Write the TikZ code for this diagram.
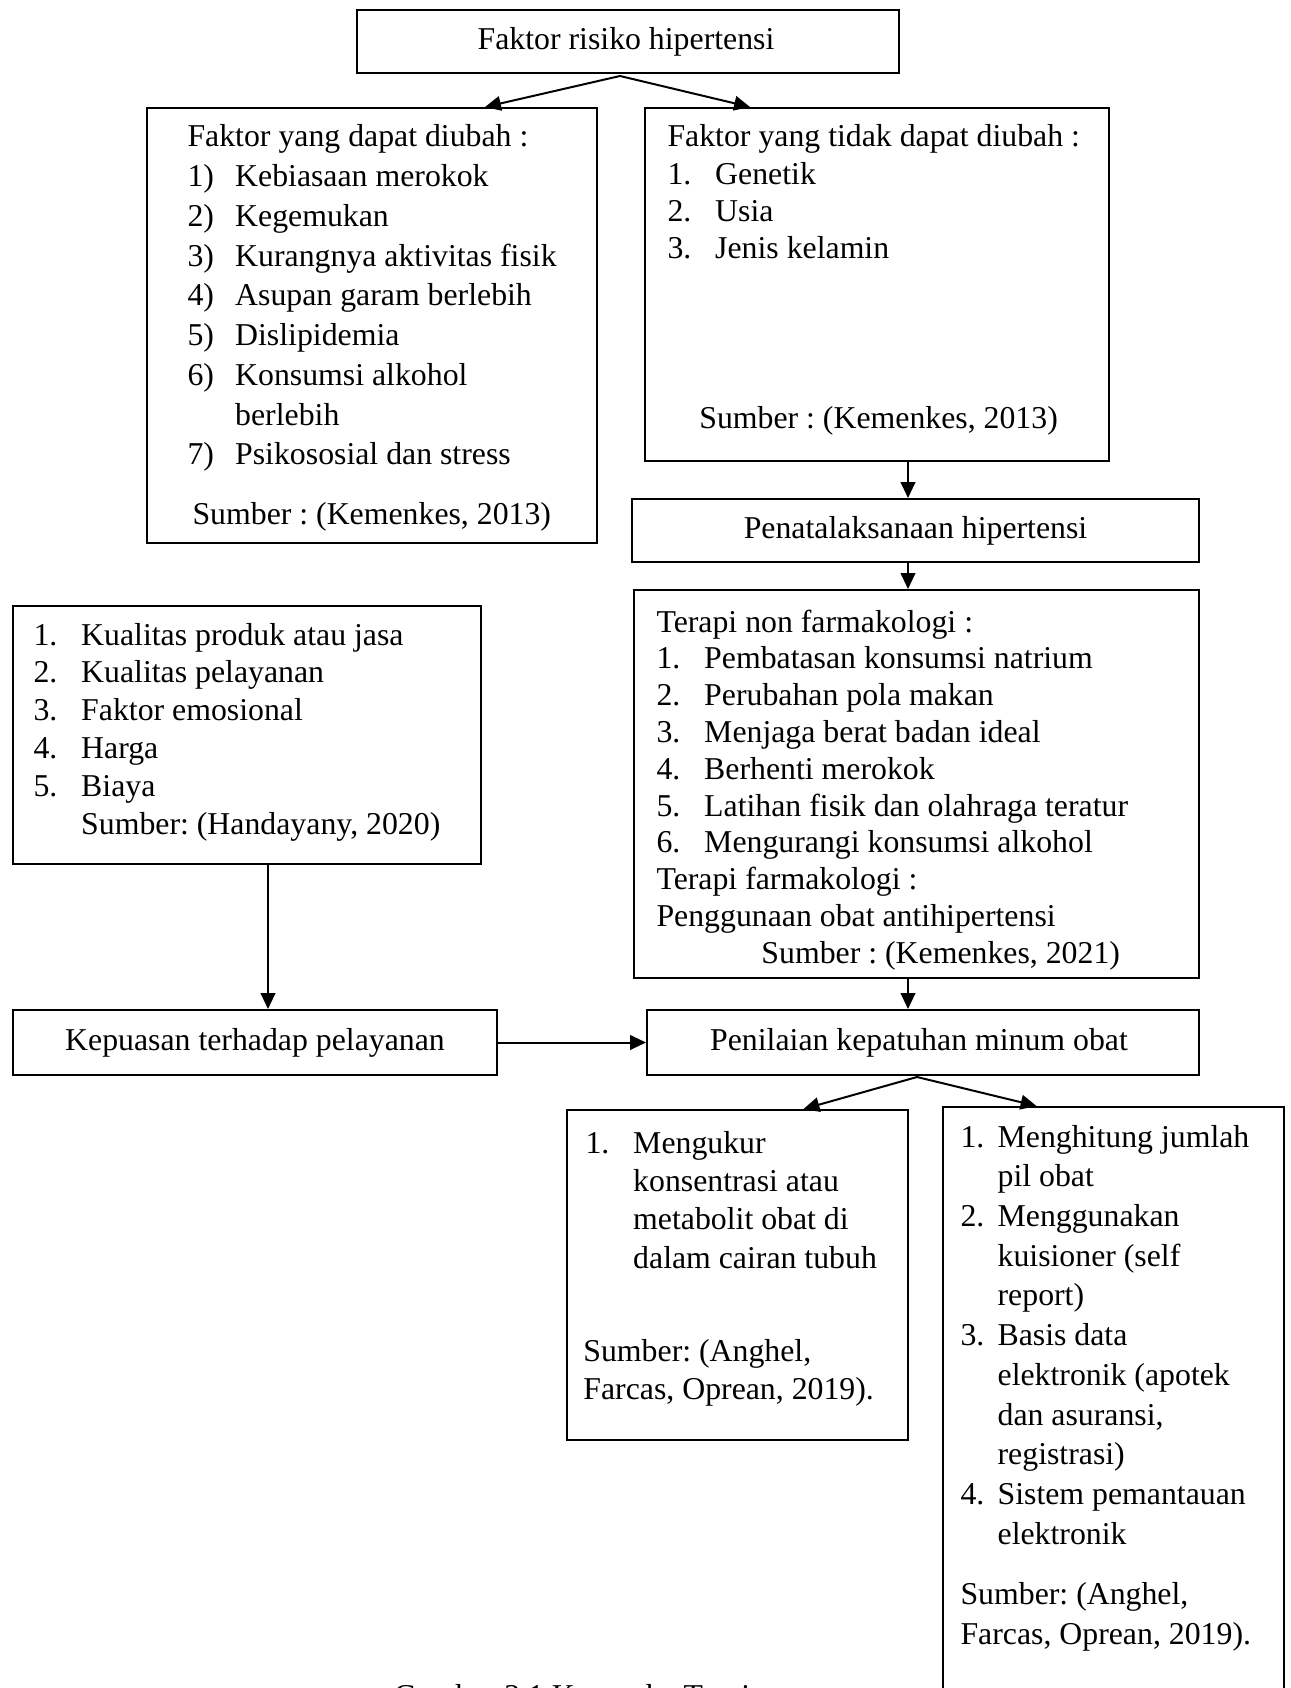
\documentclass[tikz,border=0pt]{standalone}
\usepackage{fontspec}
\setmainfont{Liberation Serif}
\usetikzlibrary{arrows.meta,fit,calc}
\frenchspacing

\tikzset{
  kotak/.style={draw, line width=0.75pt, inner sep=0pt},
  isi/.style={anchor=base west, inner sep=0pt},
  judulkotak/.style={inner sep=0pt},
  panah/.style={-{Triangle[length=6pt,width=5.5pt]}, line width=0.75pt},
}
\newcommand{\butir}[2][18pt]{\makebox[#1][l]{#2}}

\begin{document}
\begin{tikzpicture}[x=0.3774pt, y=-0.3774pt, font=\fontsize{12}{15}\selectfont]
    \useasboundingbox (0,0) rectangle (1290,1688);

    % Kotak
    \node[kotak, fit={(357,10) (899,73)}] (risiko) {};
    \node[kotak, fit={(147,108) (597,543)}] (dapat) {};
    \node[kotak, fit={(645,108) (1109,461)}] (tetap) {};
    \node[kotak, fit={(632,499) (1199,562)}] (tata) {};
    \node[kotak, fit={(634,590) (1199,978)}] (terapi) {};
    \node[kotak, fit={(13,606) (481,864)}] (mutu) {};
    \node[kotak, fit={(13,1010) (497,1075)}] (puas) {};
    \node[kotak, fit={(647,1010) (1199,1075)}] (nilai) {};
    \node[kotak, fit={(567,1110) (908,1440)}] (ukur) {};
    \node[kotak, fit={(943,1107) (1284,1730)}] (hitung) {};

    % Judul kotak satu baris
    \node[judulkotak] (teksrisiko) at ($(risiko.center)+(-2,0)$) {Faktor risiko hipertensi};
    \node[judulkotak] (tekstata) at (tata.center) {Penatalaksanaan hipertensi};
    \node[judulkotak] (tekspuas) at (puas.center) {Kepuasan terhadap pelayanan};
    \node[judulkotak] (teksnilai) at ($(nilai.center)+(-4,0)$) {Penilaian kepatuhan minum obat};

    % Isi kotak
    \node[isi, font=\fontsize{12}{15}\selectfont] (teksdapat) at (187,147) {\begin{tabular}[t]{@{}l@{}}
      Faktor yang dapat diubah :\\
      \butir{1)}Kebiasaan merokok\\
      \butir{2)}Kegemukan\\
      \butir{3)}Kurangnya aktivitas fisik\\
      \butir{4)}Asupan garam berlebih\\
      \butir{5)}Dislipidemia\\
      \butir{6)}Konsumsi alkohol\\
      \butir{}berlebih\\
      \butir{7)}Psikososial dan stress\\[7.5pt]
      \hspace*{1.9pt}Sumber : (Kemenkes, 2013)
    \end{tabular}};

    \node[isi, font=\fontsize{12}{14}\selectfont] (tekstetap) at (667,147) {\begin{tabular}[t]{@{}l@{}}
      Faktor yang tidak dapat diubah :\\
      \butir{1.}Genetik\\
      \butir{2.}Usia\\
      \butir{3.}Jenis kelamin\\[50.2pt]
      \hspace*{12pt}Sumber : (Kemenkes, 2013)
    \end{tabular}};

    \node[isi, font=\fontsize{12}{13.9}\selectfont] (teksterapi) at (656,632) {\begin{tabular}[t]{@{}l@{}}
      Terapi non farmakologi :\\
      \butir{1.}Pembatasan konsumsi natrium\\
      \butir{2.}Perubahan pola makan\\
      \butir{3.}Menjaga berat badan ideal\\
      \butir{4.}Berhenti merokok\\
      \butir{5.}Latihan fisik dan olahraga teratur\\
      \butir{6.}Mengurangi konsumsi alkohol\\
      Terapi farmakologi :\\
      Penggunaan obat antihipertensi\\
      \hspace*{39.6pt}Sumber : (Kemenkes, 2021)
    \end{tabular}};

    \node[isi, font=\fontsize{12}{14.3}\selectfont] (teksmutu) at (33,645) {\begin{tabular}[t]{@{}l@{}}
      \butir{1.}Kualitas produk atau jasa\\
      \butir{2.}Kualitas pelayanan\\
      \butir{3.}Faktor emosional\\
      \butir{4.}Harga\\
      \butir{5.}Biaya\\
      \butir{}Sumber: (Handayany, 2020)
    \end{tabular}};

    \node[isi, font=\fontsize{12}{14.5}\selectfont] (teksukur) at (585,1153) {\begin{tabular}[t]{@{}l@{}}
      \butir{1.}Mengukur\\
      \butir{}konsentrasi atau\\
      \butir{}metabolit obat di\\
      \butir{}dalam cairan tubuh\\[20.6pt]
      \hspace*{-0.8pt}Sumber: (Anghel,\\
      \hspace*{-0.8pt}Farcas, Oprean, 2019).
    \end{tabular}};

    \node[isi, font=\fontsize{12}{15}\selectfont] (tekshitung) at (960,1147) {\begin{tabular}[t]{@{}l@{}}
      \butir[14pt]{1.}Menghitung jumlah\\
      \butir[14pt]{}pil obat\\
      \butir[14pt]{2.}Menggunakan\\
      \butir[14pt]{}kuisioner (self\\
      \butir[14pt]{}report)\\
      \butir[14pt]{3.}Basis data\\
      \butir[14pt]{}elektronik (apotek\\
      \butir[14pt]{}dan asuransi,\\
      \butir[14pt]{}registrasi)\\
      \butir[14pt]{4.}Sistem pemantauan\\
      \butir[14pt]{}elektronik\\[7.7pt]
      Sumber: (Anghel,\\
      Farcas, Oprean, 2019).
    \end{tabular}};

    \node[anchor=base] (judul) at (572,1706) {Gambar 2.1 Kerangka Teori};

    % Titik bantu
    \coordinate (cabangatas) at (620,76);
    \coordinate (cabangbawah) at (917,1077);
    \coordinate (sumbu) at (908,0);
    \coordinate (sumbukiri) at (268,0);

    % Panah
    \draw[panah] (cabangatas) -- ($(dapat.north)+(113,0)$);
    \draw[panah] (cabangatas) -- ($(tetap.north)+(-127,0)$);
    \draw[panah] (tetap.south -| sumbu) -- (tata.north -| sumbu);
    \draw[panah] (tata.south -| sumbu) -- (terapi.north -| sumbu);
    \draw[panah] (terapi.south -| sumbu) -- (nilai.north -| sumbu);
    \draw[panah] (mutu.south -| sumbukiri) -- (puas.north -| sumbukiri);
    \draw[panah] (puas.east) -- (nilai.west);
    \draw[panah] (cabangbawah) -- ($(ukur.north)+(66,0)$);
    \draw[panah] (cabangbawah) -- ($(hitung.north)+(-77,0)$);
\end{tikzpicture}
\end{document}
